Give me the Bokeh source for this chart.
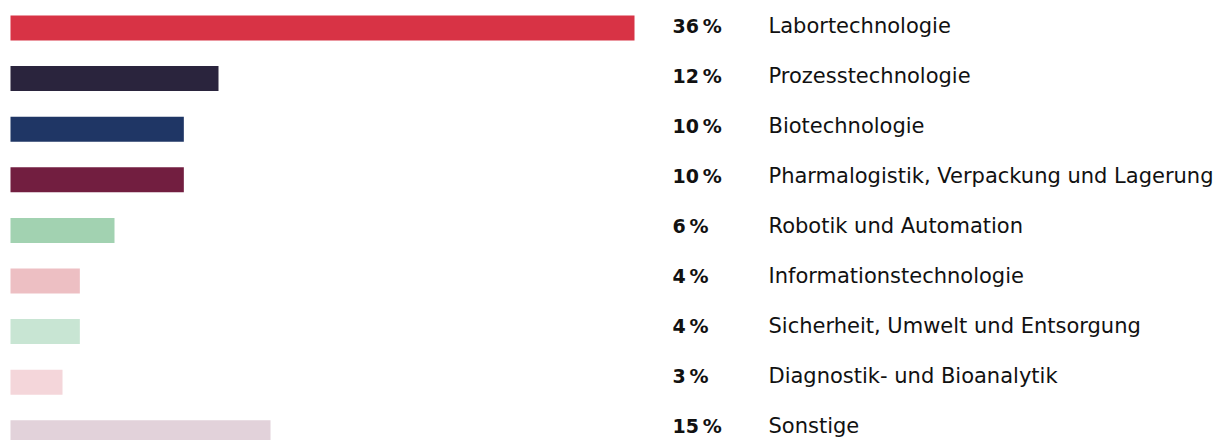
from bokeh.plotting import figure
from bokeh.models import Range1d, ColumnDataSource
from bokeh.core.properties import value
from bokeh.embed import file_html
from bokeh.resources import INLINE

categories = ["Labortechnologie", "Prozesstechnologie", "Biotechnologie",
              "Pharmalogistik, Verpackung und Lagerung", "Robotik und Automation",
              "Informationstechnologie", "Sicherheit, Umwelt und Entsorgung",
              "Diagnostik- und Bioanalytik", "Sonstige"]
shares = [36, 12, 10, 10, 6, 4, 4, 3, 15]
colors = ["#d83345", "#2a243d", "#1f3665", "#721e40", "#a2d2b1",
          "#edbfc3", "#c8e5d3", "#f4d6da", "#e2d2da"]

W, H = 1230, 440
px_per_pct = 624 / 36.0
x0_px = 10
row0_px, row_step = 27.5, 50.6

idx = list(range(len(categories)))
labels_pct = [f"{v}\u202f%" for v in shares]
src = ColumnDataSource(dict(y=idx, v=shares, c=colors, cat=categories, pct=labels_pct,
                            yoff=[-2.5 - 0.5 * i for i in idx]))

p = figure(width=W, height=H, output_backend="svg", toolbar_location=None,
           min_border=0, min_border_left=0, min_border_right=0,
           min_border_top=0, min_border_bottom=0)
p.x_range = Range1d(-x0_px / px_per_pct, (W - x0_px) / px_per_pct)
p.y_range = Range1d((H - row0_px) / row_step, -row0_px / row_step)
p.axis.visible = False
p.grid.visible = False
p.outline_line_color = None

p.hbar(y="y", left=0, right="v", height=25 / row_step, fill_color="c",
       line_color=None, source=src)

pct_x = (672 - x0_px) / px_per_pct
lab_x = (768 - x0_px) / px_per_pct
p.text(x=pct_x, y="y", text="pct", y_offset="yoff", source=src,
       text_font=value("DejaVu Sans"), text_font_size="19px", text_font_style="bold",
       text_color="#111111", text_baseline="middle", text_align="left")
p.text(x=lab_x, y="y", text="cat", y_offset="yoff", source=src,
       text_font=value("DejaVu Sans"), text_font_size="21px",
       text_color="#111111", text_baseline="middle", text_align="left")

open("out.html", "w").write(file_html(p, INLINE))
